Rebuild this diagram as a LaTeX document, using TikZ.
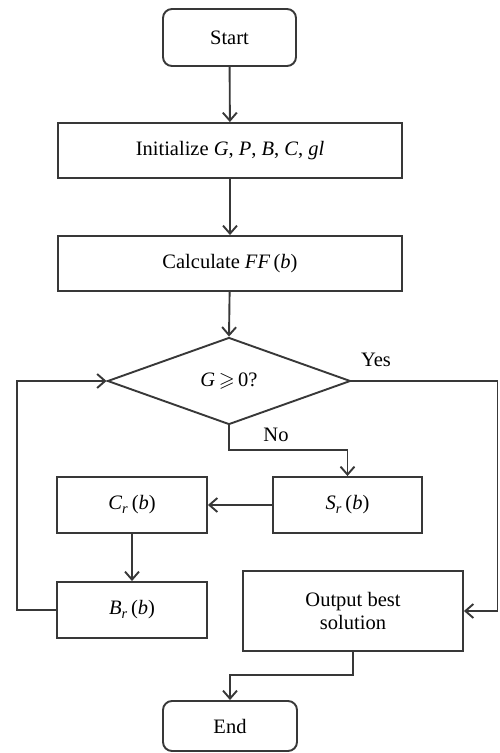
\documentclass[tikz,border=0pt]{standalone}
\usepackage{amssymb}
\usepackage{fontspec}
\setmainfont{Liberation Serif}
\usetikzlibrary{shapes.geometric,arrows.meta}
\definecolor{ln}{HTML}{383838}
\begin{document}
\begin{tikzpicture}[x=1pt,y=-1pt,
  font=\fontsize{20.5}{23}\selectfont,
  every node/.style={draw=ln,line width=1.9pt,inner sep=0pt,align=center,text=black},
  term/.style={rounded corners=9pt},
  proc/.style={},
  dec/.style={diamond,minimum width=243pt,minimum height=87pt},
  lbl/.style={draw=none},
  conn/.style={draw=ln,line width=1.9pt,-{Straight Barb[length=8pt,width=14pt,line width=1.9pt]}}]
\useasboundingbox (0,0) rectangle (499,753);
\node[term,minimum width=133pt,minimum height=57pt] (start) at (229.5,37.5) {Start};
\node[proc,minimum width=344pt,minimum height=55pt] (init) at (230,150.5) {Initialize \textit{G}, \textit{P}, \textit{B}, \textit{C}, \textit{gl}};
\node[proc,minimum width=344pt,minimum height=55pt] (calc) at (230,263.5) {Calculate \textit{FF}\,(\textit{b})};
\node[dec] (dec) at (229,381) {\textit{G}$\,\geqslant\,$0?};
\node[proc,minimum width=149pt,minimum height=56pt] (sr) at (347.5,505) {\textit{S}\textsubscript{\textit{r}}\,(\textit{b})};
\node[proc,minimum width=150pt,minimum height=56pt] (cr) at (132,505) {\textit{C}\textsubscript{\textit{r}}\,(\textit{b})};
\node[proc,minimum width=150pt,minimum height=56pt] (br) at (132,610) {\textit{B}\textsubscript{\textit{r}}\,(\textit{b})};
\node[proc,minimum width=220pt,minimum height=80pt] (out) at (353,611) {Output best\\solution};
\node[term,minimum width=134pt,minimum height=50pt] (end) at (230,726) {End};
\node[lbl] (yes) at (376,360) {Yes};
\node[lbl] (no) at (276,435) {No};
\coordinate (nob) at (229,450);
\coordinate (yr) at (497.5,381);
\coordinate (ll) at (17,610);
\coordinate (ob) at (353,675);
\draw[conn] (start) -- (init);
\draw[conn] (init) -- (calc);
\draw[conn] (calc) -- (dec.north);
\draw[conn] (dec.south) -- (nob) -| (sr.north);
\draw[conn] (sr) -- (cr);
\draw[conn] (cr) -- (br);
\draw[conn] (br.west) -- (ll) |- (dec.west);
\draw[conn] (dec.east) -- (yr) |- (out.east);
\draw[conn] (out.south) -- (ob) -| (end.north);
\end{tikzpicture}
\end{document}
